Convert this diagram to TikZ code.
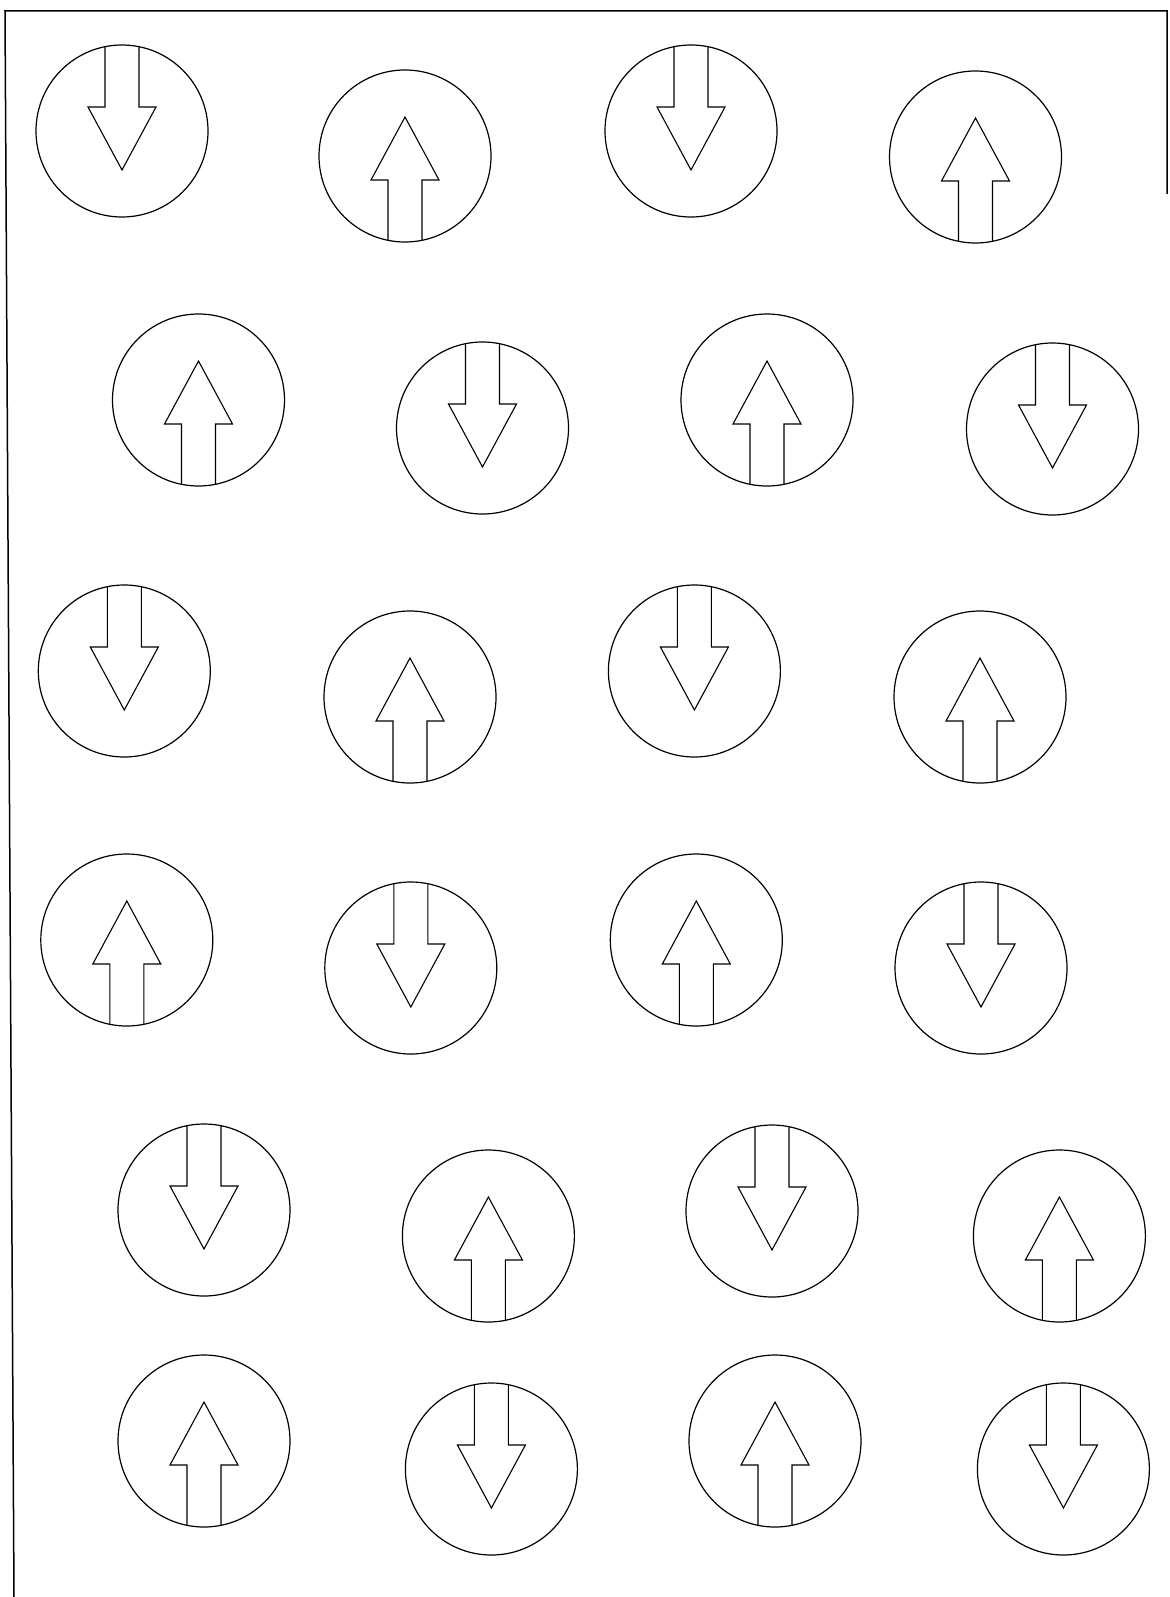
\documentclass[tikz,border=0pt]{standalone}
\begin{document}
\begin{tikzpicture}[x=1pt,y=-1pt,
  spin/.style={draw, circle, line width=1.2pt, minimum size=172pt, inner sep=0pt},
  frameline/.style={line width=1.5pt},
  pics/downspin/.style={code={
    \draw[line width=1.1pt, line join=miter]
      (-17,-84.3) -- (-17,-24) -- (-34,-24) -- (0,39) -- (34,-24) -- (17,-24) -- (17,-84.3);}},
  pics/upspin/.style={code={
    \draw[line width=1.1pt, line join=miter]
      (-17,84.3) -- (-17,24) -- (-34,24) -- (0,-39) -- (34,24) -- (17,24) -- (17,84.3);}}
]
\useasboundingbox (0,0) rectangle (1169,1597);
% frame (partial, as scanned)
\coordinate (fTL) at (5,11);
\coordinate (fTR) at (1167,11);
\coordinate (fR) at (1167,194);
\coordinate (fBL) at (14,1597);
\draw[frameline] (fBL) -- (fTL) -- (fTR) -- (fR);
% spins
\foreach \n/\x/\y/\d in {
  a1/122/131/downspin, a2/405/156/upspin, a3/691/131/downspin, a4/975.5/157/upspin,
  b1/198.5/400/upspin, b2/482.5/428/downspin, b3/767/400/upspin, b4/1052.5/429/downspin,
  c1/124.3/671/downspin, c2/410/697/upspin, c3/694.4/671/downspin, c4/980/697/upspin,
  d1/126.8/940/upspin, d2/410.8/968/downspin, d3/696.3/940/upspin, d4/981/968/downspin,
  e1/204/1210/downspin, e2/488.4/1236/upspin, e3/772/1211/downspin, e4/1059.4/1236/upspin,
  f1/204/1441/upspin, f2/491.4/1469/downspin, f3/775/1441/upspin, f4/1063.4/1469/downspin}{
  \node[spin] (\n) at (\x,\y) {};
  \pic at (\n.center) {\d};
}
\end{tikzpicture}
\end{document}
